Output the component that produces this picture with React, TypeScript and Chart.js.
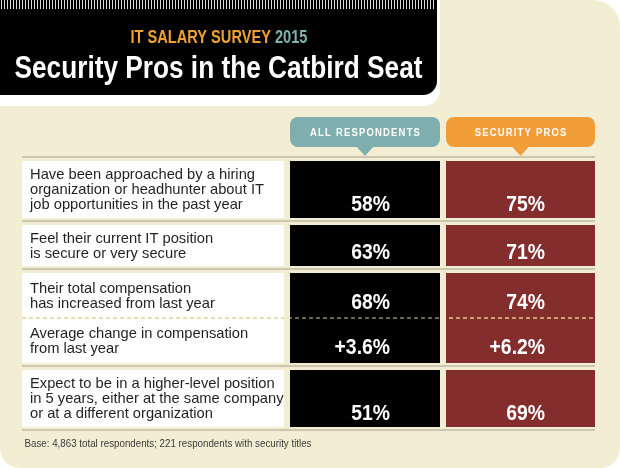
import { useEffect, useRef } from "react";
import { Chart, registerables } from "chart.js";

Chart.register(...registerables);

// ---------------- data ----------------
const surveyLabel = "IT SALARY SURVEY";
const surveyYear = "2015";
const chartTitle = "Security Pros in the Catbird Seat";
const groupNames = ["ALL RESPONDENTS", "SECURITY PROS"];
const questions: string[][] = [
  ["Have been approached by a hiring", "organization or headhunter about IT", "job opportunities in the past year"],
  ["Feel their current IT position", "is secure or very secure"],
  ["Their total compensation", "has increased from last year"],
  ["Average change in compensation", "from last year"],
  ["Expect to be in a higher-level position", "in 5 years, either at the same company", "or at a different organization"],
];
const allRespondents = [58, 63, 68, 3.6, 51];
const securityPros = [75, 71, 74, 6.2, 69];
const valueKinds = ["share", "share", "share", "change", "share"];
const sharesCellWithPrevious = [false, false, false, true, false];
const footnote = "Base: 4,863 total respondents; 221 respondents with security titles";

// ---------------- layout & style ----------------
const W = 620;
const H = 468;
const CREAM = "#F3EED3";
const SANS = '"Liberation Sans", Arial, sans-serif';
const COLS = [
  { left: 22, right: 284, color: "#FFFFFF", name: "Question" },
  { left: 290, right: 440, color: "#000000", name: "All respondents" },
  { left: 446, right: 595, color: "#832D2D", name: "Security pros" },
];
const TAB_COLORS = ["#7EAFAE", "#F19D38"];
const DASH_COLORS = ["#E6DDB0", "#6A6848", "#C9A470"];
const TABLE_TOP = 161;
const ROW_GAP = 7;
const LINE_H = 15;

type Row = { top: number; bottom: number };

function layoutRows(): Row[] {
  const rows: Row[] = [];
  let y = TABLE_TOP;
  questions.forEach((lines, i) => {
    const joined = sharesCellWithPrevious[i] || sharesCellWithPrevious[i + 1];
    const h = 9 + 16 * lines.length + (joined ? 4 : 0);
    if (i > 0 && !sharesCellWithPrevious[i]) y += ROW_GAP;
    rows.push({ top: y, bottom: y + h });
    y += h;
  });
  return rows;
}

function formatValue(v: number, kind: string) {
  return kind === "change" ? `+${v.toFixed(1)}%` : `${v}%`;
}

function drawScaled(
  ctx: CanvasRenderingContext2D,
  text: string,
  x: number,
  y: number,
  font: string,
  sx: number,
  align: "left" | "center" | "right"
) {
  ctx.font = font;
  const w = ctx.measureText(text).width * sx;
  const x0 = align === "center" ? x - w / 2 : align === "right" ? x - w : x;
  ctx.save();
  ctx.translate(x0, y);
  ctx.scale(sx, 1);
  ctx.textAlign = "left";
  ctx.textBaseline = "alphabetic";
  ctx.fillText(text, 0, 0);
  ctx.restore();
  return w;
}

function fitScale(ctx: CanvasRenderingContext2D, text: string, font: string, width: number) {
  ctx.font = font;
  return width / ctx.measureText(text).width;
}

function drawSpaced(
  ctx: CanvasRenderingContext2D,
  text: string,
  cx: number,
  y: number,
  font: string,
  sx: number,
  spacing: number
) {
  ctx.font = font;
  const widths = Array.from(text).map((c) => ctx.measureText(c).width * sx);
  const total = widths.reduce((a, b) => a + b, 0) + spacing * (text.length - 1);
  let x = cx - total / 2;
  Array.from(text).forEach((c, i) => {
    drawScaled(ctx, c, x, y, font, sx, "left");
    x += widths[i] + spacing;
  });
}

const rows = layoutRows();

const tablePlugin = {
  id: "tableDecor",
  beforeDatasetsDraw(chart: any) {
    const ctx: CanvasRenderingContext2D = chart.ctx;
    const xs = chart.scales.x;
    const ys = chart.scales.y;
    const px = (v: number) => xs.getPixelForValue(v);
    const py = (v: number) => ys.getPixelForValue(v);
    ctx.save();
    // page
    ctx.fillStyle = "#FFFFFF";
    ctx.fillRect(0, 0, W, H);
    ctx.fillStyle = CREAM;
    ctx.beginPath();
    (ctx as any).roundRect(0, 0, W, H, [0, 27, 20, 20]);
    ctx.fill();
    // header block
    ctx.fillStyle = "#FFFFFF";
    ctx.beginPath();
    (ctx as any).roundRect(0, 0, 440, 106, [0, 0, 16, 0]);
    ctx.fill();
    ctx.fillStyle = "#000000";
    ctx.beginPath();
    (ctx as any).roundRect(0, 0, 437, 95, [0, 0, 14, 0]);
    ctx.fill();
    ctx.fillStyle = "rgba(255,255,255,0.85)";
    for (let x = 1; x < 436; x += 3) ctx.fillRect(x, 0, 1, 9);
    // subtitle
    const subFont = `bold 18.5px ${SANS}`;
    ctx.font = subFont;
    const wA = ctx.measureText(surveyLabel + " ").width;
    const wB = ctx.measureText(surveyYear).width;
    const subSx = 177 / (wA + wB);
    const sx0 = 219 - 177 / 2;
    ctx.fillStyle = "#F0A030";
    drawScaled(ctx, surveyLabel, sx0, 43, subFont, subSx, "left");
    ctx.fillStyle = "#7FB3B0";
    drawScaled(ctx, surveyYear, sx0 + wA * subSx, 43, subFont, subSx, "left");
    // title
    const titleFont = `bold 31px ${SANS}`;
    ctx.fillStyle = "#FFFFFF";
    drawScaled(ctx, chartTitle, 218.5, 78, titleFont, fitScale(ctx, chartTitle, titleFont, 408), "center");
    // tabs
    groupNames.forEach((name, i) => {
      const c = COLS[i + 1];
      const l = px(c.left);
      const r = px(c.right);
      const cx = (l + r) / 2;
      ctx.fillStyle = TAB_COLORS[i];
      ctx.beginPath();
      (ctx as any).roundRect(l, 117, r - l, 30, 8);
      ctx.fill();
      ctx.beginPath();
      ctx.moveTo(cx - 9, 146);
      ctx.lineTo(cx + 9, 146);
      ctx.lineTo(cx, 156);
      ctx.closePath();
      ctx.fill();
      ctx.fillStyle = "#FFFFFF";
      drawSpaced(ctx, name, cx, 136, `bold 11px ${SANS}`, 0.86, 1.2);
    });
    // separators
    ctx.strokeStyle = "#CCC8B0";
    ctx.lineWidth = 2;
    const sepY = [Math.round(py(rows[0].top) - 4)];
    rows.forEach((r, i) => {
      if (!sharesCellWithPrevious[i + 1]) sepY.push(Math.round(py(r.bottom) + 3));
    });
    sepY.forEach((y) => {
      ctx.beginPath();
      ctx.moveTo(px(COLS[0].left), y);
      ctx.lineTo(px(COLS[2].right), y);
      ctx.stroke();
    });
    ctx.restore();
  },
  afterDatasetsDraw(chart: any) {
    const ctx: CanvasRenderingContext2D = chart.ctx;
    const xs = chart.scales.x;
    const ys = chart.scales.y;
    const px = (v: number) => xs.getPixelForValue(v);
    const py = (v: number) => ys.getPixelForValue(v);
    ctx.save();
    // dashed divider inside joined cells
    rows.forEach((r, i) => {
      if (!sharesCellWithPrevious[i]) return;
      const y = py(r.top);
      COLS.forEach((c, k) => {
        ctx.save();
        ctx.beginPath();
        ctx.rect(px(c.left), y - 2, px(c.right) - px(c.left), 4);
        ctx.clip();
        ctx.strokeStyle = DASH_COLORS[k];
        ctx.lineWidth = 2;
        ctx.setLineDash([4, 3]);
        ctx.beginPath();
        ctx.moveTo(px(COLS[0].left), y);
        ctx.lineTo(px(COLS[2].right), y);
        ctx.stroke();
        ctx.restore();
      });
    });
    // labels and values
    const labelFont = `15px ${SANS}`;
    const labelSx = fitScale(ctx, questions[0][0], labelFont, 225);
    const valueFont = `bold 22px ${SANS}`;
    rows.forEach((r, i) => {
      const lines = questions[i];
      const center = (py(r.top) + py(r.bottom)) / 2;
      const first = center + 4.5 - ((lines.length - 1) * LINE_H) / 2;
      ctx.fillStyle = "#231F20";
      lines.forEach((t, j) => drawScaled(ctx, t, px(COLS[0].left) + 8, first + j * LINE_H, labelFont, labelSx, "left"));
      const base = first + (lines.length - 1) * LINE_H + 1.5;
      ctx.fillStyle = "#FFFFFF";
      drawScaled(ctx, formatValue(allRespondents[i], valueKinds[i]), px(COLS[1].right) - 50, base, valueFont, 0.88, "right");
      drawScaled(ctx, formatValue(securityPros[i], valueKinds[i]), px(COLS[2].right) - 50, base, valueFont, 0.88, "right");
    });
    // footnote
    const noteFont = `10.5px ${SANS}`;
    ctx.fillStyle = "#3A3A3A";
    drawScaled(ctx, footnote, px(COLS[0].left) + 2.5, 446.5, noteFont, fitScale(ctx, footnote, noteFont, 287), "left");
    ctx.restore();
  },
};

export default function App() {
  const ref = useRef<HTMLCanvasElement>(null);
  useEffect(() => {
    document.body.style.margin = "0";
    const chart = new Chart(ref.current as HTMLCanvasElement, {
      type: "bar",
      data: {
        datasets: COLS.map((c) => ({
          label: c.name,
          data: rows.map((r) => ({ x: (c.left + c.right) / 2, y: [r.top, r.bottom] })) as any,
          backgroundColor: c.color,
          barThickness: c.right - c.left,
          stack: "table",
          borderWidth: 0,
          inflateAmount: 0,
        })),
      },
      options: {
        animation: false,
        responsive: false,
        devicePixelRatio: 1,
        maintainAspectRatio: false,
        layout: { padding: 0 },
        scales: {
          x: { type: "linear", min: 0, max: W, offset: false, display: false },
          y: { type: "linear", min: 0, max: H, reverse: true, display: false, stacked: false },
        },
        plugins: { legend: { display: false }, tooltip: { enabled: false } },
        events: [],
      },
      plugins: [tablePlugin],
    } as any);
    return () => chart.destroy();
  }, []);
  return <canvas ref={ref} width={W} height={H} style={{ display: "block", width: W, height: H }} />;
}
